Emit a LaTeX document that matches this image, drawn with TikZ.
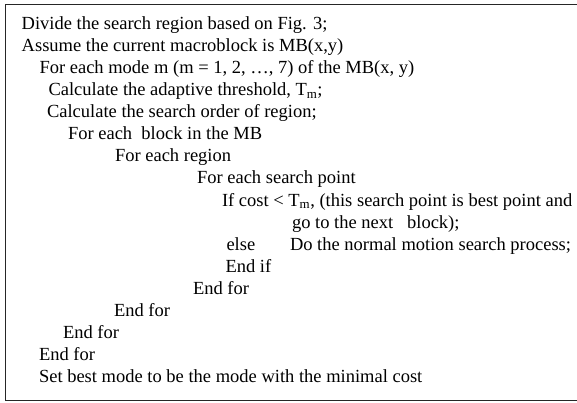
\documentclass[tikz,border=0pt]{standalone}
\usepackage{fontspec}
\setmainfont{Liberation Serif}
\begin{document}
\begin{tikzpicture}[x=1pt,y=-1pt,
  ln/.style={anchor=base west,inner sep=0pt,outer sep=0pt,font=\fontsize{18.5}{22}\selectfont},
  frame/.style={draw=black!85,line width=1.4pt}]
\useasboundingbox (0,0) rectangle (577,403);
\draw[frame] (5.7,4.5) rectangle (580,400.5);
\node[ln] (l1) at (21.7,30) {Divide the search region based on Fig. 3;};
\node[ln] (l2) at (21.7,52) {Assume the current macroblock is MB(x,y)};
\node[ln] (l3) at (39.5,74) {For each mode m (m = 1, 2, …, 7) of the MB(x, y)};
\node[ln] (l4) at (48.5,96) {Calculate the adaptive threshold, T\textsubscript{m};};
\node[ln] (l5) at (47,118) {Calculate the search order of region;};
\node[ln] (l6) at (68,140) {For each\ \ block in the MB};
\node[ln] (l7) at (115,162) {For each region};
\node[ln] (l8) at (197,184) {For each search point};
\node[ln] (l9) at (222,206) {If cost < T\textsubscript{m}, (this search point is best point and};
\node[ln] (l10) at (292,228) {go to the next\ \ \ block);};
\node[ln] (l11a) at (226.5,250) {else};
\node[ln] (l11b) at (290,250) {Do the normal motion search process;};
\node[ln] (l12) at (225.5,272) {End if};
\node[ln] (l13) at (193,294) {End for};
\node[ln] (l14) at (114,316) {End for};
\node[ln] (l15) at (63,338) {End for};
\node[ln] (l16) at (39,360) {End for};
\node[ln] (l17) at (39,382) {Set best mode to be the mode with the minimal cost};
\end{tikzpicture}
\end{document}
